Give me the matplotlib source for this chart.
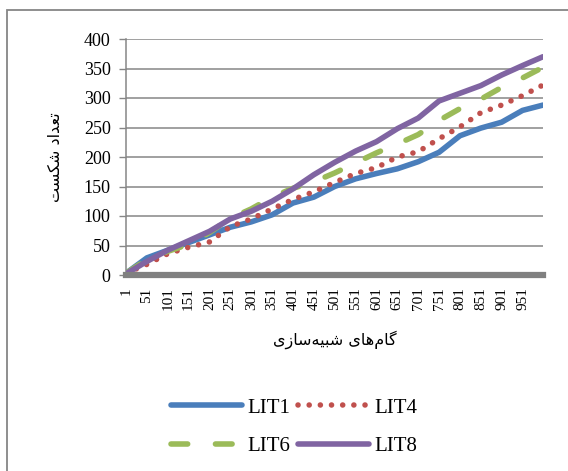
import matplotlib

matplotlib.use("Agg")
import matplotlib.pyplot as plt
from matplotlib.patches import Rectangle

# simulation step at which each sample was taken
steps = [1, 51, 101, 151, 201, 251, 301, 351, 401, 451, 501,
         551, 601, 651, 701, 751, 801, 851, 901, 951, 1000]

lit1 = [3, 29, 42, 55, 68, 81, 90, 102, 122, 132, 150,
        163, 172, 180, 192, 208, 236, 249, 259, 279, 288]
lit4 = [3, 18, 36, 47, 56, 82, 95, 112, 128, 141, 157,
        172, 182, 200, 209, 231, 251, 275, 288, 304, 322]
lit6 = [3, 26, 40, 52, 72, 96, 112, 132, 147, 158, 173,
        190, 207, 222, 238, 262, 282, 298, 318, 334, 352]
lit8 = [2, 23, 42, 58, 74, 95, 108, 125, 146, 170, 191,
        210, 226, 248, 266, 295, 308, 321, 339, 355, 370]

tick_steps = list(range(1, 1000, 50))
y_ticks = [0, 50, 100, 150, 200, 250, 300, 350, 400]

# Persian labels written in presentation forms, visual order (no shaping engine in mpl)
y_title = "\ufe96\ufeb4\ufb91\ufeb7 \ufea9\ufe8d\ufeaa\ufecc\ufe97"          # تعداد شکست
x_title = "\ufbfc\ufeaf\ufe8e\ufeb3\ufeea\ufbff\ufe92\ufeb7 \ufbfc\ufe8e\ufeeb\ufee1\ufe8e\ufb94"  # گام‌های شبیه‌سازی

plt.rcParams["font.family"] = ["Liberation Serif", "DejaVu Sans"]

fig = plt.figure(figsize=(5.68, 4.71), dpi=100, facecolor="white")
ax = fig.add_axes([126 / 568, 1 - 275 / 471, 417 / 568, 236 / 471])

lw = 4
ax.plot(steps, lit1, color="#4a7ebb", lw=lw, solid_capstyle="round", label="LIT1", zorder=3)
ax.plot(steps, lit4, color="#c0504d", lw=lw, linestyle=(0, (0.01, 2)),
        dash_capstyle="round", label="LIT4", zorder=3)
ax.plot(steps, lit6, color="#9bbb59", lw=lw, linestyle=(0, (3, 5)),
        dash_capstyle="round", label="LIT6", zorder=3)
ax.plot(steps, lit8, color="#8064a2", lw=lw, solid_capstyle="round", label="LIT8", zorder=3)

ax.set_xlim(1, 1000)
ax.set_ylim(0, 400)
ax.set_yticks(y_ticks)
ax.set_xticks(tick_steps)
ax.set_xticklabels([str(s) for s in tick_steps], rotation=90)
ax.tick_params(axis="x", length=0, pad=9, labelsize=11)
ax.tick_params(axis="y", length=5, width=1, color="#868686", pad=6, labelsize=13)

ax.grid(axis="y", color="#868686", lw=1.1)
ax.set_axisbelow(True)
for side in ("top", "right"):
    ax.spines[side].set_visible(False)
ax.spines["left"].set_color("#868686")
ax.spines["left"].set_linewidth(1.1)
ax.spines["bottom"].set_color("#808080")
ax.spines["bottom"].set_linewidth(4.5)
ax.spines["bottom"].set_zorder(4)

ax.set_ylabel(y_title, family="DejaVu Sans", fontsize=11.5, va="center")
ax.yaxis.set_label_coords(-0.17, 0.5)
ax.set_xlabel(x_title, family="DejaVu Sans", fontsize=11.5, va="center")
ax.xaxis.set_label_coords(0.5, -0.275)

handles, labels = ax.get_legend_handles_labels()
order = [0, 2, 1, 3]
ax.legend([handles[i] for i in order], [labels[i] for i in order],
          ncol=2, loc="center", bbox_to_anchor=(294 / 568, 1 - 427 / 471),
          bbox_transform=fig.transFigure, frameon=False, fontsize=15,
          handlelength=3.4, handletextpad=0.25, columnspacing=0.4,
          labelspacing=0.9)

# chart border
fig.add_artist(Rectangle((7 / 568, -0.1), 2, 1.1 - 9.5 / 471, transform=fig.transFigure,
                         fill=False, edgecolor="#868686", lw=1.3, clip_on=False))

fig.savefig("out.png", dpi=100, facecolor="white")
